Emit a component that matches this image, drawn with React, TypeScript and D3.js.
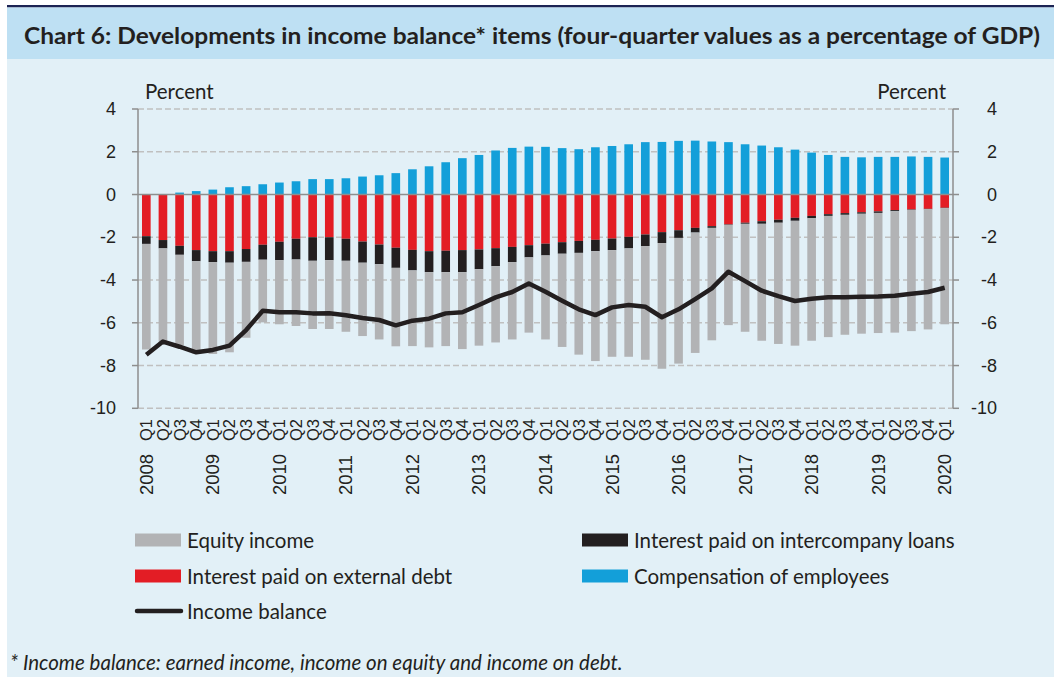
import React from "react";
import * as d3 from "d3";

const quarters: string[] = [];
const years = [2008, 2009, 2010, 2011, 2012, 2013, 2014, 2015, 2016, 2017, 2018, 2019, 2020];
years.forEach((y) => {
  ["Q1", "Q2", "Q3", "Q4"].forEach((q) => {
    if (y === 2020 && q !== "Q1") return;
    quarters.push(`${y} ${q}`);
  });
});

const equityIncome = [
  -4.94, -4.48, -4.23, -4.31, -4.30, -4.19, -3.55, -2.93, -3.00, -3.11, -3.19, -3.22, -3.32, -3.43, -3.52, -3.67,
  -3.54, -3.52, -3.46, -3.60, -3.58, -3.57, -3.62, -3.52, -3.93, -4.36, -4.76, -5.14, -4.99, -5.07, -5.32, -5.88,
  -5.88, -5.63, -5.26, -4.69, -5.05, -5.47, -5.67, -5.84, -5.73, -5.67, -5.61, -5.61, -5.62, -5.68, -5.67, -5.62,
  -5.43,
];
const interestIntercompany = [
  -0.36, -0.39, -0.42, -0.52, -0.51, -0.54, -0.60, -0.70, -0.86, -0.97, -1.10, -1.07, -1.03, -0.99, -0.92, -0.94,
  -0.96, -0.98, -1.00, -1.03, -0.92, -0.84, -0.71, -0.57, -0.55, -0.54, -0.56, -0.53, -0.54, -0.54, -0.54, -0.51,
  -0.36, -0.22, -0.08, -0.02, -0.05, -0.12, -0.14, -0.14, -0.11, -0.08, -0.08, -0.07, -0.07, -0.05, -0.02, -0.02,
  -0.02,
];
const interestExternal = [
  -1.95, -2.13, -2.40, -2.60, -2.65, -2.65, -2.55, -2.35, -2.21, -2.07, -2.00, -2.00, -2.07, -2.20, -2.34, -2.49,
  -2.59, -2.65, -2.63, -2.60, -2.57, -2.51, -2.45, -2.37, -2.30, -2.23, -2.17, -2.12, -2.06, -1.98, -1.87, -1.76,
  -1.67, -1.56, -1.48, -1.40, -1.32, -1.25, -1.18, -1.09, -1.00, -0.92, -0.87, -0.83, -0.79, -0.73, -0.70, -0.67,
  -0.62,
];
const compensation = [
  0.0, 0.02, 0.09, 0.16, 0.23, 0.34, 0.39, 0.48, 0.56, 0.62, 0.72, 0.72, 0.76, 0.84, 0.90, 1.00,
  1.18, 1.32, 1.51, 1.70, 1.85, 2.06, 2.18, 2.24, 2.23, 2.17, 2.12, 2.21, 2.27, 2.35, 2.45, 2.46,
  2.51, 2.52, 2.48, 2.45, 2.35, 2.29, 2.21, 2.10, 1.96, 1.85, 1.76, 1.74, 1.76, 1.76, 1.78, 1.76,
  1.73,
];
const incomeBalance = [
  -7.5, -6.88, -7.12, -7.38, -7.27, -7.07, -6.34, -5.44, -5.51, -5.51, -5.56, -5.55, -5.65, -5.78, -5.87, -6.12,
  -5.9, -5.81, -5.56, -5.51, -5.17, -4.81, -4.56, -4.16, -4.55, -4.97, -5.37, -5.64, -5.28, -5.17, -5.25, -5.74,
  -5.37, -4.89, -4.39, -3.61, -4.05, -4.5, -4.75, -4.98, -4.88, -4.81, -4.8, -4.78, -4.77, -4.74, -4.64, -4.56,
  -4.36,
];
const yTicks = [4, 2, 0, -2, -4, -6, -8, -10];

const seriesKeys = ["compensation", "external", "intercompany", "equity"];
const seriesColors: Record<string, string> = {
  compensation: "#139fd9",
  external: "#e31d25",
  intercompany: "#231f20",
  equity: "#b2b3b5",
};

const TITLE = "Chart 6: Developments in income balance* items (four-quarter values as a percentage of GDP)";

export default function App() {
  const W = 1054;
  const H = 677;
  const x = d3.scaleBand<string>().domain(quarters).range([138, 953]).paddingInner(0.48).paddingOuter(0.24);
  const y = d3.scaleLinear().domain([-10, 4]).range([408.3, 109]);

  const rows = quarters.map((q, i) => ({
    q,
    compensation: compensation[i],
    external: interestExternal[i],
    intercompany: interestIntercompany[i],
    equity: equityIncome[i],
  }));
  const stacked = d3.stack<any>().keys(seriesKeys).offset(d3.stackOffsetDiverging)(rows);

  const line = d3
    .line<number>()
    .x((_, i) => (x(quarters[i]) as number) + x.bandwidth() / 2)
    .y((d) => y(d));

  const calibri = "Lato, 'Open Sans', sans-serif";
  const arial = "'Liberation Sans', Arial, sans-serif";

  const legendItems = [
    { label: "Equity income", color: seriesColors.equity, x: 135, y: 540, type: "rect" },
    { label: "Interest paid on intercompany loans", color: seriesColors.intercompany, x: 582, y: 540, type: "rect" },
    { label: "Interest paid on external debt", color: seriesColors.external, x: 135, y: 576, type: "rect" },
    { label: "Compensation of employees", color: seriesColors.compensation, x: 582, y: 576, type: "rect" },
    { label: "Income balance", color: "#231f20", x: 135, y: 611, type: "line" },
  ];

  return (
    <svg
      width={W}
      height={H}
      style={{ position: "absolute", left: 0, top: 0, display: "block" }}
      xmlns="http://www.w3.org/2000/svg"
    >
      <rect x={0} y={0} width={W} height={H} fill="#ffffff" />
      <rect x={7} y={5} width={W - 7} height={2.5} fill="#1c2353" />
      <rect x={7} y={7.5} width={W - 7} height={51.5} fill="#bee0f3" />
      <rect x={7} y={59} width={W - 7} height={H - 59} fill="#e2f0f7" />
      <text
        x={24}
        y={44}
        fontFamily={calibri}
        fontWeight="bold"
        fontSize={23.5}
        fill="#231f20"
        textLength={1016}
        lengthAdjust="spacingAndGlyphs"
      >
        {TITLE}
      </text>

      {/* gridlines */}
      {yTicks
        .filter((t) => t !== 0)
        .map((t) => (
          <line
            key={"g" + t}
            x1={138}
            x2={953}
            y1={y(t)}
            y2={y(t)}
            stroke="#c0c0c0"
            strokeWidth={1.5}
            strokeDasharray="6,3"
          />
        ))}

      {/* bars */}
      {stacked.map((s) => (
        <g key={s.key} fill={seriesColors[s.key]}>
          {s.map((d, i) => {
            const y0 = y(d[0]);
            const y1 = y(d[1]);
            return (
              <rect
                key={i}
                x={x(quarters[i])}
                y={Math.min(y0, y1)}
                width={x.bandwidth()}
                height={Math.abs(y0 - y1)}
              />
            );
          })}
        </g>
      ))}

      {/* zero line */}
      <line x1={138} x2={953} y1={y(0)} y2={y(0)} stroke="#8e8e8e" strokeWidth={1.5} />

      {/* income balance line */}
      <path
        d={line(incomeBalance) || ""}
        fill="none"
        stroke="#231f20"
        strokeWidth={4.5}
        strokeLinejoin="round"
        strokeLinecap="butt"
      />

      {/* axes */}
      <line x1={138} x2={138} y1={y(4)} y2={y(-10)} stroke="#8e8e8e" strokeWidth={1.5} />
      <line x1={953} x2={953} y1={y(4)} y2={y(-10)} stroke="#8e8e8e" strokeWidth={1.5} />
      {yTicks.map((t) => (
        <g key={"t" + t}>
          <line x1={132} x2={138} y1={y(t)} y2={y(t)} stroke="#8e8e8e" strokeWidth={1.5} />
          <line x1={953} x2={959} y1={y(t)} y2={y(t)} stroke="#8e8e8e" strokeWidth={1.5} />
          <text
            x={116}
            y={y(t)}
            textAnchor="end"
            dominantBaseline="central"
            fontFamily={arial}
            fontSize={18}
            fill="#231f20"
          >
            {t}
          </text>
          <text
            x={997}
            y={y(t)}
            textAnchor="end"
            dominantBaseline="central"
            fontFamily={arial}
            fontSize={18}
            fill="#231f20"
          >
            {t}
          </text>
        </g>
      ))}
      <text x={145} y={99} fontFamily={calibri} fontSize={20.5} fill="#231f20">
        Percent
      </text>
      <text x={946} y={99} textAnchor="end" fontFamily={calibri} fontSize={20.5} fill="#231f20">
        Percent
      </text>

      {/* x labels */}
      {quarters.map((q, i) => {
        const [yr, qq] = q.split(" ");
        const cx = (x(q) as number) + x.bandwidth() / 2;
        return (
          <g key={"x" + q}>
            <text
              transform={`translate(${cx},${441}) rotate(-90)`}
              dominantBaseline="central"
              textAnchor="start"
              fontFamily={arial}
              fontSize={16.5}
              fill="#231f20"
            >
              {qq}
            </text>
            {qq === "Q1" && (
              <text
                transform={`translate(${cx},${495}) rotate(-90)`}
                dominantBaseline="central"
                textAnchor="start"
                fontFamily={arial}
                fontSize={18.5}
                fill="#231f20"
              >
                {yr}
              </text>
            )}
          </g>
        );
      })}

      {/* legend */}
      {legendItems.map((l) => (
        <g key={l.label}>
          {l.type === "rect" ? (
            <rect x={l.x} y={l.y - 6.5} width={46} height={13} fill={l.color} />
          ) : (
            <line
              x1={l.x + 2}
              x2={l.x + 46}
              y1={l.y}
              y2={l.y}
              stroke={l.color}
              strokeWidth={4.5}
              strokeLinecap="round"
            />
          )}
          <text
            x={l.x + 52}
            y={l.y}
            dominantBaseline="central"
            fontFamily={calibri}
            fontSize={20.5}
            fill="#231f20"
          >
            {l.label}
          </text>
        </g>
      ))}

      <text x={10} y={670} fontFamily={calibri} fontStyle="italic" fontSize={20.5} fill="#231f20">
        * Income balance: earned income, income on equity and income on debt.
      </text>
    </svg>
  );
}
